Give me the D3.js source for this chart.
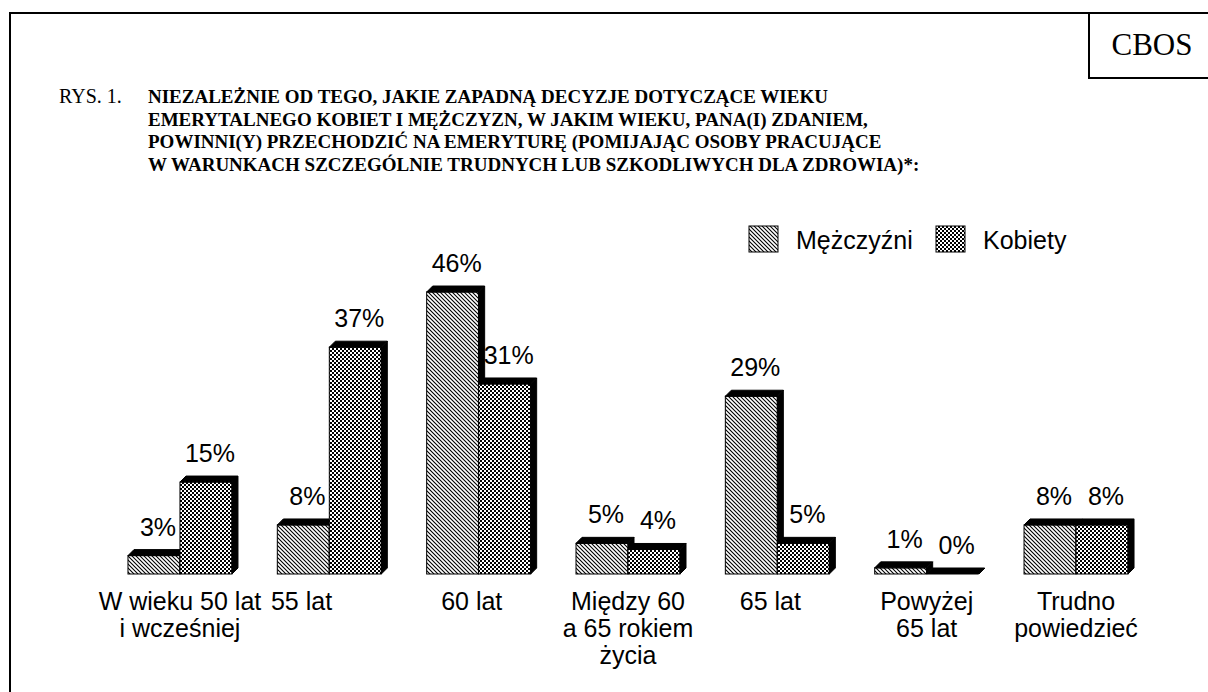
<!DOCTYPE html>
<html>
<head>
<meta charset="utf-8">
<script src="https://cdn.jsdelivr.net/npm/d3@7"></script>
<style>
  body { margin: 0; background: #fff; }
  .val, .cat, .leg { font-family: Arial, "Liberation Sans", sans-serif; font-size: 25px; fill: #000; }
  .ttl { font-family: "Times New Roman", "Liberation Serif", serif; fill: #000; }
</style>
</head>
<body>
<div id="chart"></div>
<script>
// data (trailing nbsp keep the original label offsets)
var categories = [
  "W wieku 50 lat|i wcześniej",
  "55 lat\u00a0\u00a0\u00a0\u00a0\u00a0\u00a0\u00a0\u00a0",
  "60 lat\u00a0\u00a0",
  "Między 60|a 65 rokiem|życia",
  "65 lat\u00a0\u00a0",
  "Powyżej|65 lat",
  "Trudno|powiedzieć"
];
var seriesNames = ["Mężczyźni", "Kobiety"];
var men   = [3, 8, 46, 5, 29, 1, 8];
var women = [15, 37, 31, 4, 5, 0, 8];

var titleLines = [
  "NIEZALEŻNIE OD TEGO, JAKIE ZAPADNĄ DECYZJE DOTYCZĄCE WIEKU",
  "EMERYTALNEGO KOBIET I MĘŻCZYZN, W JAKIM WIEKU, PANA(I) ZDANIEM,",
  "POWINNI(Y) PRZECHODZIĆ NA EMERYTURĘ (POMIJAJĄC OSOBY PRACUJĄCE",
  "W WARUNKACH SZCZEGÓLNIE TRUDNYCH LUB SZKODLIWYCH DLA ZDROWIA)*:"
];

var svgWidth = 1208, svgHeight = 692;
var baseY = 574;
var depth = 6;
var barW = 52;

var svg = d3.select("#chart").append("svg")
  .attr("width", svgWidth)
  .attr("height", svgHeight);

// fill patterns
var defs = svg.append("defs");
var pm = defs.append("pattern")
  .attr("id", "patMen")
  .attr("patternUnits", "userSpaceOnUse")
  .attr("width", 4).attr("height", 4);
pm.append("rect").attr("width", 4).attr("height", 4).attr("fill", "#fff");
pm.append("path")
  .attr("d", "M0,0 L4,4 M-1,3 L1,5 M3,-1 L5,1")
  .attr("stroke", "#000").attr("stroke-width", 1.1);

var pw = defs.append("pattern")
  .attr("id", "patWomen")
  .attr("patternUnits", "userSpaceOnUse")
  .attr("width", 4).attr("height", 4);
pw.append("rect").attr("width", 4).attr("height", 4).attr("fill", "#fff");
pw.append("rect").attr("width", 2).attr("height", 2).attr("fill", "#000");
pw.append("rect").attr("x", 2).attr("y", 2).attr("width", 2).attr("height", 2).attr("fill", "#000");

var fills = ["url(#patMen)", "url(#patWomen)"];

// frame
svg.append("path")
  .attr("d", "M10,692 L10,13 L1210,13")
  .attr("fill", "none").attr("stroke", "#000").attr("stroke-width", 2);
svg.append("path")
  .attr("d", "M1089,13 L1089,78 L1210,78")
  .attr("fill", "none").attr("stroke", "#000").attr("stroke-width", 2);
svg.append("text")
  .attr("class", "ttl")
  .attr("x", 1152).attr("y", 55)
  .attr("text-anchor", "middle")
  .style("font-size", "31px")
  .text("CBOS");

// title
svg.append("text")
  .attr("class", "ttl")
  .attr("x", 59).attr("y", 103)
  .style("font-size", "20px")
  .text("RYS. 1.");
var title = svg.append("text")
  .attr("class", "ttl")
  .style("font-size", "19px")
  .style("font-weight", "bold");
titleLines.forEach(function(t, i) {
  title.append("tspan")
    .attr("x", 148)
    .attr("y", 103 + i * 22.7)
    .text(t);
});

// scales
var x0 = d3.scalePoint()
  .domain(categories)
  .range([105.3, 1150.7])
  .padding(0.5);

var y = d3.scaleLinear()
  .domain([0, 50])
  .range([baseY, baseY - 50 * 6.13]);

var rows = categories.map(function(c, i) {
  return { cat: c, vals: [men[i], women[i]] };
});

var groups = svg.selectAll("g.grp")
  .data(rows)
  .enter()
  .append("g")
  .attr("class", "grp");

groups.each(function(d) {
  var g = d3.select(this);
  var cx = x0(d.cat);
  d.vals.forEach(function(v, j) {
    var xa = cx - barW + j * barW;
    var xb = xa + barW;
    var yt = y(v);
    // front face
    if (v > 0) {
      g.append("rect")
        .attr("x", xa).attr("y", yt)
        .attr("width", barW).attr("height", baseY - yt)
        .attr("fill", fills[j])
        .attr("stroke", "#000").attr("stroke-width", 1);
    }
    // right side
    g.append("path")
      .attr("d", `M${xb},${yt} L${xb + depth},${yt - depth} L${xb + depth},${baseY - depth} L${xb},${baseY} Z`)
      .attr("fill", "#000").attr("stroke", "#000").attr("stroke-width", 1);
    // top
    g.append("path")
      .attr("d", `M${xa},${yt} L${xa + depth},${yt - depth} L${xb + depth},${yt - depth} L${xb},${yt} Z`)
      .attr("fill", "#000").attr("stroke", "#000").attr("stroke-width", 1);
  });
});

// value labels
groups.each(function(d) {
  var g = d3.select(this);
  var cx = x0(d.cat);
  d.vals.forEach(function(v, j) {
    g.append("text")
      .attr("class", "val")
      .attr("x", cx - barW / 2 + j * barW + 4)
      .attr("y", y(v) - 20)
      .attr("text-anchor", "middle")
      .text(v + "%");
  });
});

// category labels
groups.append("text")
  .attr("class", "cat")
  .attr("text-anchor", "middle")
  .each(function(d) {
    var t = d3.select(this);
    d.cat.split("|").forEach(function(line, k) {
      t.append("tspan")
        .attr("x", x0(d.cat))
        .attr("y", 610 + k * 27)
        .text(line);
    });
  });

// legend
var legX = [749, 936];
seriesNames.forEach(function(name, j) {
  svg.append("rect")
    .attr("x", legX[j]).attr("y", 226)
    .attr("width", 29).attr("height", 26)
    .attr("fill", fills[j])
    .attr("stroke", "#000").attr("stroke-width", 1);
  svg.append("text")
    .attr("class", "leg")
    .attr("x", legX[j] + 47).attr("y", 249)
    .text(name);
});
</script>
</body>
</html>
